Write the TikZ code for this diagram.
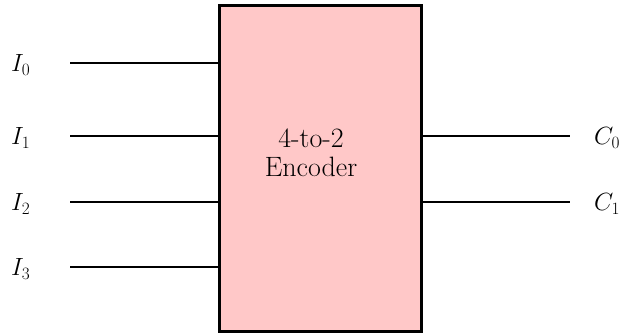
\documentclass[tikz,border=0pt]{standalone}
\usepackage{amsmath}
\usepackage{xcolor}
\usetikzlibrary{calc, positioning}
\definecolor{encpink}{RGB}{255,200,200}

\begin{document}
\begin{tikzpicture}[
    x=1pt, y=-1pt,
    every node/.style={font=\fontsize{25}{28}\selectfont},
    encbox/.style={draw, line width=3pt, fill=encpink,
                   minimum width=202pt, minimum height=326pt, inner sep=0pt},
    wire/.style={line width=2pt},
    sig/.style={anchor=west, inner sep=0pt},
  ]
  \useasboundingbox (0,0) rectangle (626,333);
  \node[encbox] (enc) at (320,168) {};
  \node[align=center, font=\fontsize{28}{29}\selectfont] (enctxt) at (311,153) {4-to-2\\Encoder};

  % inputs
  \foreach \i/\yy in {0/63, 1/136, 2/202, 3/267} {
    \coordinate (in\i) at (70,\yy);
    \node[sig] (lbl\i) at (11,\yy+2) {$I_{\i}$};
  }
  \draw[wire, line width=2.8pt] (in0) -- (in0 -| enc.west);
  \foreach \i in {1,2,3}
    \draw[wire] (in\i) -- (in\i -| enc.west);

  % outputs
  \foreach \j/\yy in {0/136, 1/202} {
    \coordinate (out\j) at (570,\yy);
    \node[sig] (clbl\j) at (594,\yy+2) {$C_{\j}$};
    \draw[wire] (out\j -| enc.east) -- (out\j);
  }
\end{tikzpicture}
\end{document}
